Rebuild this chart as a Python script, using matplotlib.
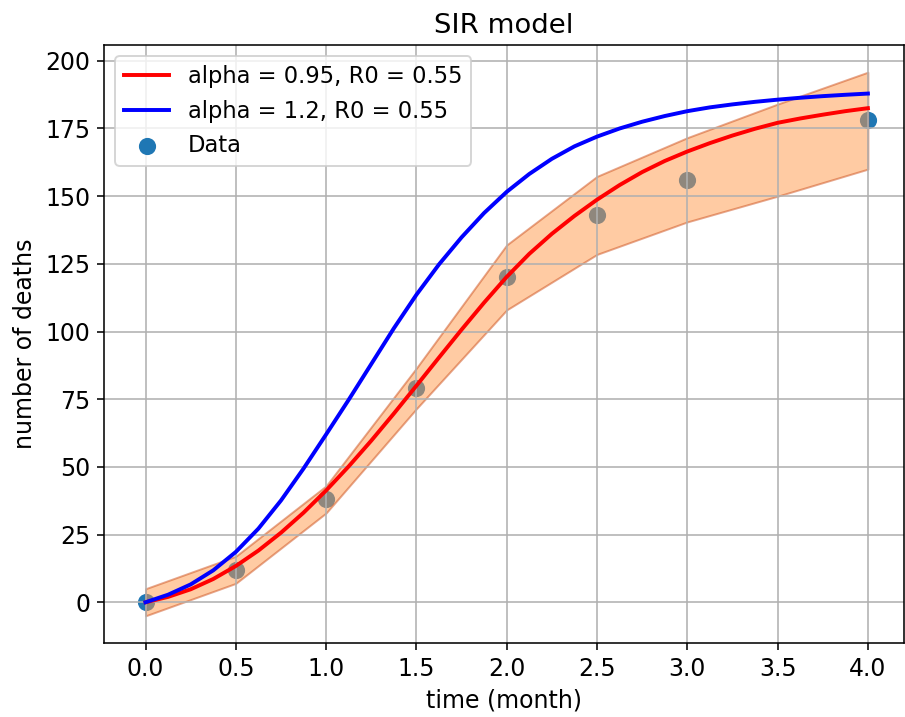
import numpy as np
import matplotlib
matplotlib.use('Agg')
from matplotlib import pyplot as plt

plt.rcParams['font.size'] = 12

# observed deaths
t_data = [0.0, 0.5, 1.0, 1.5, 2.0, 2.5, 3.0, 4.0]
deaths = [0, 12, 38, 79, 120, 143, 156, 178]

# uncertainty band
t_band = [0.0, 0.5, 1.0, 1.5, 2.0, 2.5, 3.0, 3.5, 4.0]
band_low = [-5, 7, 33, 71.5, 108, 128.5, 140.5, 150, 160]
band_high = [5, 17, 43, 86.5, 132, 157.3, 171.6, 184, 195.8]

# model curves
t_model = [0.0, 0.125, 0.25, 0.375, 0.5, 0.625, 0.75, 0.875, 1.0, 1.125, 1.25, 1.375,
           1.5, 1.625, 1.75, 1.875, 2.0, 2.125, 2.25, 2.375, 2.5, 2.625, 2.75, 2.875,
           3.0, 3.125, 3.25, 3.375, 3.5, 3.625, 3.75, 3.875, 4.0]
red = [0, 2.0, 4.8, 8.6, 13.4, 19.1, 25.7, 33.1, 41.3, 50.2, 59.7, 69.7,
       80.0, 90.4, 100.7, 110.7, 120.2, 128.7, 136.1, 142.7, 148.7, 154.1, 158.9, 163.0,
       166.5, 169.6, 172.4, 174.9, 177.1, 178.7, 180.1, 181.4, 182.5]
blue = [0, 2.8, 6.6, 11.8, 18.6, 27.2, 37.6, 49.4, 62.0, 74.8, 88.0, 101.2,
        113.6, 124.8, 134.8, 143.8, 151.6, 158.2, 163.8, 168.4, 172.0, 175.0, 177.5, 179.6,
        181.4, 182.8, 183.9, 184.85, 185.65, 186.35, 186.95, 187.45, 187.9]

fig = plt.figure(figsize=(905/141.4, 717/141.4), dpi=141.4)
ax = fig.add_axes([104/905, 1-643/717, 800/905, 598/717])

ax.plot(t_model, red, 'r', lw=2, label='alpha = 0.95, R0 = 0.55')
ax.plot(t_model, blue, 'b', lw=2, label='alpha = 1.2, R0 = 0.55')
ax.scatter(t_data, deaths, s=60, label='Data')
ax.fill_between(t_band, band_low, band_high, alpha=0.5,
                edgecolor='#CC4F1B', facecolor='#FF9848')

ax.set_xlim(-0.23, 4.2)
ax.set_title('SIR model', fontsize=14)
ax.set_xlabel('time (month)')
ax.set_ylabel('number of deaths')
ax.grid(True)
ax.legend(loc='upper left', fontsize=11.5)

fig.savefig('out.png', dpi=141.4)
